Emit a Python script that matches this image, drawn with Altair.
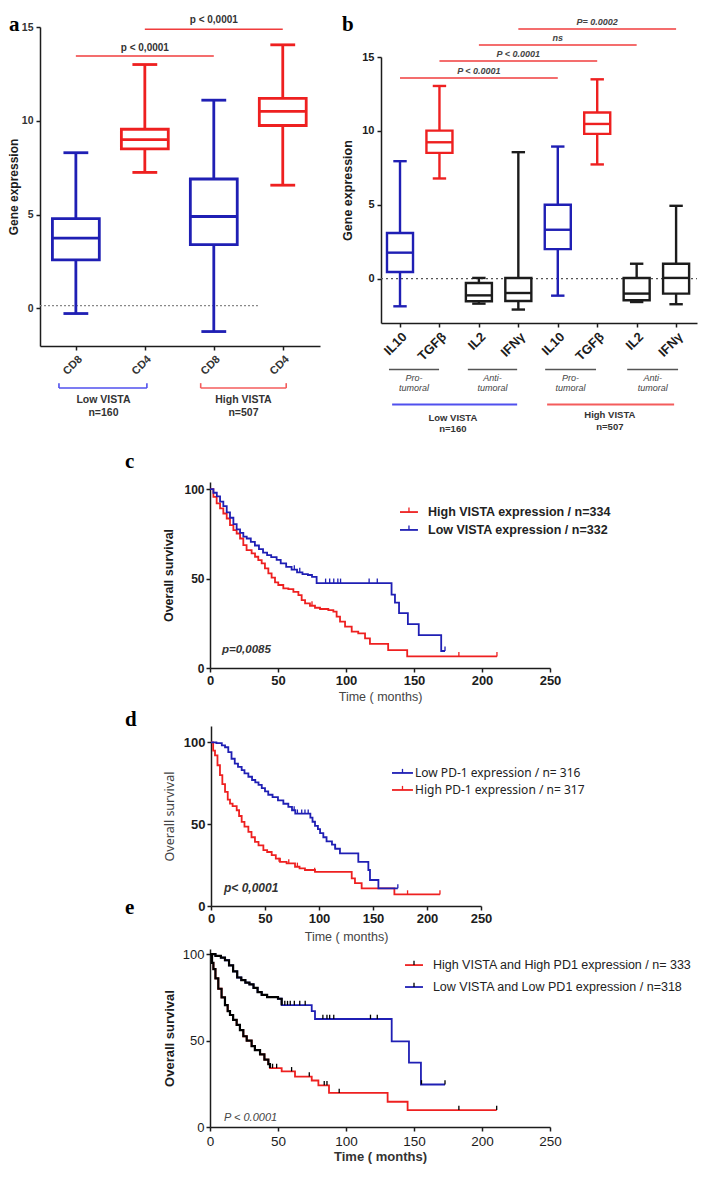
import altair as alt
import pandas as pd

SANS = "Liberation Sans"
SERIF = "Liberation Serif"
NOTO = "Noto Sans"
BLUE = "#1f1fb4"
RED = "#ee2020"
INK = "#1c1c1c"
LIGHT_BLUE = "#5050ee"
LIGHT_RED = "#f45c5c"
PLINE = "#f03c3c"

W, H = 695, 1162  # whole canvas

# ---------------- panel a : CD8 / CD4 by VISTA level ----------------
a_ticks = ["CD8", "CD4", "CD8", "CD4"]
a_min = [-0.27, 7.25, -1.23, 6.57]
a_q1 = [2.59, 8.50, 3.40, 9.75]
a_med = [3.75, 9.00, 4.90, 10.50]
a_q3 = [4.79, 9.55, 6.90, 11.20]
a_max = [8.30, 13.00, 11.10, 14.05]
a_groups = ["Low VISTA", "High VISTA"]
a_n = ["n=160", "n=507"]
a_pvals = ["p < 0,0001", "p < 0,0001"]

# ---------------- panel b : cytokines by VISTA level ----------------
b_ticks = ["IL10", "TGFβ", "IL2", "IFNγ", "IL10", "TGFβ", "IL2", "IFNγ"]
b_min = [-1.87, 6.78, -1.69, -2.09, -1.15, 7.73, -1.58, -1.73]
b_q1 = [0.45, 8.51, -1.53, -1.51, 2.00, 9.80, -1.46, -1.01]
b_med = [1.76, 9.23, -1.13, -0.97, 3.31, 10.47, -1.01, 0.05]
b_q3 = [3.09, 10.02, -0.29, 0.05, 5.00, 11.24, 0.05, 1.01]
b_max = [7.95, 13.04, 0.05, 8.56, 8.94, 13.49, 1.01, 4.93]
b_pvals = ["P < 0.0001", "P < 0.0001", "ns", "P= 0.0002"]
b_roles = ["Pro-", "Anti-", "tumoral"]
b_groups = ["Low VISTA", "High VISTA"]
b_n = ["n=160", "n=507"]

box_kinds = ["CD8", "CD4", "IL10", "TGFβ", "IL2", "IFNγ"]
box_colors = [BLUE, RED, BLUE, RED, INK, INK]

# ---------------- panel c : VISTA survival ----------------
c_high_t = [0, 2.5, 4.9, 7.4, 9.8, 12.3, 14.7, 17.2, 19.6, 22.1, 24.5, 26.9, 30.6, 33.1, 35.5, 38, 40.4, 42.9, 45.3, 47.8,
            50.2, 53.9, 57.6, 61.3, 65, 67.4, 69.9, 73.5, 77.2, 80.9, 87, 90.7, 93.1, 95.6, 99.3, 104.2, 109, 114, 117.6, 131,
            145, 211]
c_high_s = [100, 95.7, 92, 89.2, 86.4, 83.6, 79.9, 77.1, 75.2, 72.4, 68.7, 65.9, 64.1, 62.2, 60.3, 58.5, 55.7, 52.9, 50.5, 47.9,
            46.4, 44.5, 44.1, 42.6, 40.8, 38, 36.1, 34.8, 33.7, 33, 32.4, 31.5, 28.7, 25.9, 23.1, 20.3, 19.4, 16.6, 13.5, 10,
            6.5, 6.5]
c_low_t = [0, 2.5, 5, 7.4, 9.8, 12.3, 14.7, 17.2, 19.6, 22.1, 24.5, 27, 30, 33, 36, 39, 42, 45, 49, 52,
           56, 60, 64, 68, 72, 75, 78.4, 133.5, 136, 139, 145.5, 153.5, 170, 172.8]
c_low_s = [100, 98, 96, 93, 90.5, 87, 84, 80.5, 77.5, 75.5, 73.5, 72.4, 70.5, 68.5, 66.5, 64.5, 63.1, 62, 60.5, 58.5,
           56.5, 55, 53.5, 52.5, 52, 51, 47.5, 41, 36.5, 30.7, 24.5, 18.4, 9.5, 9.5]
c_high_cens_t = [75, 183, 211]
c_high_cens_s = [34.8, 6.5, 6.5]
c_low_cens_t = [62, 66, 85, 88, 91, 94, 96, 117, 123, 172.8]
c_low_cens_s = [55, 53.5, 47.5, 47.5, 47.5, 47.5, 47.5, 47.5, 47.5, 9.5]
c_legend = ["High VISTA expression / n=334", "Low VISTA expression / n=332"]

# ---------------- panel d : PD-1 survival ----------------
d_low_t = [0, 5, 10, 13, 16, 19, 22, 25, 28.4, 31, 34.6, 38, 41, 44, 47, 50, 53, 57, 62, 67,
           71.6, 75, 78, 92, 94, 96.3, 99, 101, 104, 107, 112, 115, 119.4, 136.4, 145.7, 147.2, 155, 173]
d_low_s = [100, 99.5, 98.2, 97, 94, 90, 87, 85, 83, 81, 79, 77, 75.5, 74, 72, 70, 68, 66.5, 64.6, 62.5,
           60.6, 58.5, 56.5, 54, 51.5, 49, 47, 44.5, 42, 39.5, 37.5, 35, 32.1, 27, 22, 15.9, 10.8, 10.8]
d_high_t = [0, 2, 3.7, 6, 8.3, 10.5, 13, 15.5, 17.6, 20, 23.8, 26, 28.4, 31, 34.6, 37.5, 40.7, 44, 48.5, 52,
            56.2, 60, 63.9, 70, 77.8, 82, 87, 96.3, 130.3, 133.3, 139.5, 169.8, 212]
d_high_s = [100, 95, 92, 86, 80, 74.5, 69.7, 65, 62.6, 61, 58.5, 55, 51.4, 48.5, 45.3, 42, 39.2, 37, 34.1, 33,
            31.1, 29, 27, 26, 24, 23, 22, 20.9, 16.9, 14, 10.8, 7.1, 7.1]
d_low_cens_t = [77, 80, 84, 87, 90, 115, 173]
d_low_cens_s = [58.5, 56.5, 56.5, 56.5, 56.5, 35, 10.8]
d_high_cens_t = [63, 72, 80, 96, 182, 212]
d_high_cens_s = [27, 26, 24, 20.9, 7.1, 7.1]
d_legend = ["Low PD-1 expression / n= 316", "High PD-1 expression / n= 317"]

# ---------------- panel e : VISTA + PD1 survival ----------------
e_low_t = [0, 4, 8, 11, 14, 17, 20, 23, 26, 29, 32, 35, 38, 42, 50, 52.7, 74.8, 77.2, 133.6, 146.3, 155.1, 172.8]
e_low_s = [100, 99, 98, 96.5, 93.5, 90, 86.5, 85, 83.5, 82.5, 80.5, 78, 76.5, 75.2, 74.2, 70.5, 67, 62.5, 49.6, 37.3,
           24.6, 24.6]
e_high_t = [0, 1.5, 2.5, 4, 6.1, 8.5, 11, 13, 14.7, 17, 19.6, 22, 24.5, 27, 30.6, 33, 36.8, 40, 42.9, 44.1,
            52.7, 62.5, 74.8, 79.7, 87.5, 130.6, 145.3, 210.8]
e_high_s = [100, 95, 91.3, 86, 80, 75, 70.5, 67, 64.8, 62, 59.1, 56, 52.5, 50, 46.8, 44.5, 42, 39, 36.4, 34.1,
            32.2, 29.2, 26.9, 24.1, 19.7, 14.6, 9.8, 9.8]
e_low_cens_t = [55, 57, 59, 62, 66, 70, 83, 86, 88, 91, 118, 123, 155.5, 172.8]
e_low_cens_s = [70.5, 70.5, 70.5, 70.5, 70.5, 70.5, 62.5, 62.5, 62.5, 62.5, 62.5, 62.5, 24.6, 24.6]
e_high_cens_t = [46, 49, 60, 73, 84, 86, 95, 183, 210.8]
e_high_cens_s = [34.1, 34.1, 32.2, 29.2, 24.1, 24.1, 19.7, 9.8, 9.8]
e_legend = ["High VISTA and High PD1 expression / n= 333", "Low VISTA and Low PD1 expression / n=318"]


# ---------------- helpers ----------------
def sc(lo, hi, r0, r1):
    # each panel gets its own scale, placed on the canvas through its pixel range
    return alt.Scale(domain=[lo, hi], range=[r0, r1], nice=False, zero=False)


def ax(**kw):
    base = dict(grid=False, domainColor=INK, domainWidth=1.5, tickColor=INK, tickWidth=1.5, tickSize=4,
                labelFont=SANS, titleFont=SANS, labelFlush=False, labelOverlap=False, format="d")
    base.update(kw)
    return alt.Axis(**base)


def ex(field, s, axis=alt.Undefined):
    return alt.X(field, type="quantitative", scale=s, axis=axis)


def ey(field, s, axis=alt.Undefined):
    return alt.Y(field, type="quantitative", scale=s, axis=axis)


def lab(ticks):
    return "[" + ",".join("'" + t + "'" for t in ticks) + "][datum.value - 1]"


def hlines(rows, xs, ys, color, width, dash=None, xaxis=alt.Undefined, yaxis=alt.Undefined):
    df = pd.DataFrame(rows, columns=["x", "x2", "y"])
    kw = dict(color=color, strokeWidth=width)
    if dash:
        kw["strokeDash"] = dash
    return alt.Chart(df).mark_rule(**kw).encode(x=ex("x", xs, xaxis), x2="x2:Q", y=ey("y", ys, yaxis))


def vlines(rows, xs, ys, color, width):
    df = pd.DataFrame(rows, columns=["x", "y", "y2"])
    return alt.Chart(df).mark_rule(color=color, strokeWidth=width).encode(x=ex("x", xs), y=ey("y", ys), y2="y2:Q")


def texts(rows, xs, ys, **mk):
    df = pd.DataFrame(rows, columns=["x", "y", "text"])
    return alt.Chart(df).mark_text(**mk).encode(x=ex("x", xs), y=ey("y", ys), text="text:N")


CS = alt.Scale(domain=box_kinds, range=box_colors)


def box_layers(ticks, lo, q1, med, q3, hi, xs, ys, half, cap, sw):
    df = pd.DataFrame({"pos": list(range(1, len(ticks) + 1)), "kind": ticks,
                       "lo": lo, "q1": q1, "med": med, "q3": q3, "hi": hi})
    base = alt.Chart(df).transform_calculate(
        xl=f"datum.pos - {half}", xr=f"datum.pos + {half}",
        cl=f"datum.pos - {cap}", cr=f"datum.pos + {cap}")
    col = alt.Color("kind:N", scale=CS, legend=None)
    w_lo = base.mark_rule(strokeWidth=sw).encode(x=ex("pos", xs), y=ey("lo", ys), y2="q1:Q", color=col)
    w_hi = base.mark_rule(strokeWidth=sw).encode(x=ex("pos", xs), y=ey("q3", ys), y2="hi:Q", color=col)
    box = base.mark_rect(fill="white", strokeWidth=sw).encode(
        x=ex("xl", xs), x2="xr:Q", y=ey("q1", ys), y2="q3:Q",
        stroke=alt.Stroke("kind:N", scale=CS, legend=None))
    mid = base.mark_rule(strokeWidth=sw).encode(x=ex("xl", xs), x2="xr:Q", y=ey("med", ys), color=col)
    c_lo = base.mark_rule(strokeWidth=sw).encode(x=ex("cl", xs), x2="cr:Q", y=ey("lo", ys), color=col)
    c_hi = base.mark_rule(strokeWidth=sw).encode(x=ex("cl", xs), x2="cr:Q", y=ey("hi", ys), color=col)
    return [w_lo, w_hi, box, mid, c_lo, c_hi]


def km(times, surv, color, xs, ys, sw, xaxis=alt.Undefined, yaxis=alt.Undefined):
    df = pd.DataFrame({"t": times, "s": surv})
    return alt.Chart(df).mark_line(interpolate="step-after", color=color, strokeWidth=sw).encode(
        x=ex("t", xs, xaxis), y=ey("s", ys, yaxis))


def cens(times, surv, color, xs, ys, h):
    df = pd.DataFrame({"t": times, "s": surv})
    return alt.Chart(df).transform_calculate(s2=f"datum.s + {h}").mark_rule(color=color, strokeWidth=1.3).encode(
        x=ex("t", xs), y=ey("s", ys), y2="s2:Q")


LETTER = dict(font=SERIF, fontSize=21, fontWeight="bold", color="black", align="left")

# ================= panel a =================
xa, ya = sc(0.48, 4.54, 32, 312), sc(-2, 15, 338, 19)
ax_a_x = ax(orient="bottom", offset=338 - H, values=[1, 2, 3, 4], labelExpr=lab(a_ticks), labelAngle=-45,
            labelFontSize=11, labelFontWeight="bold", labelColor="#333", labelPadding=3, title=None)
ax_a_y = ax(orient="left", offset=-32, values=[0, 5, 10, 15], labelFontSize=10.5, labelFontWeight="bold",
            labelColor="#333", labelPadding=3, title="Gene expression", titleFontSize=12, titleFontWeight="bold",
            titleColor=INK, titlePadding=1)
panel_a = alt.layer(
    hlines([[0.48, 3.64, 0.15]], xa, ya, "#888888", 1.2, [2, 2], ax_a_x, ax_a_y),
    *box_layers(a_ticks, a_min, a_q1, a_med, a_q3, a_max, xa, ya, 0.34, 0.18, 2.8),
    hlines([[1, 3, 13.45], [2, 4, 14.88]], xa, ya, PLINE, 1.5),
    texts([[2, 13.9, a_pvals[0]], [3, 15.37, a_pvals[1]]], xa, ya, font=SANS, fontSize=10,
          fontWeight="bold", color="#333", baseline="middle"),
    hlines([[0.755, 2.03, -4.24]], xa, ya, LIGHT_BLUE, 1.6),
    vlines([[0.755, -4.24, -3.98], [2.03, -4.24, -3.98]], xa, ya, LIGHT_BLUE, 1.6),
    hlines([[2.81, 4.05, -4.24]], xa, ya, LIGHT_RED, 1.6),
    vlines([[2.81, -4.24, -3.98], [4.05, -4.24, -3.98]], xa, ya, LIGHT_RED, 1.6),
    texts([[1.40, -4.88, a_groups[0]], [1.40, -5.58, a_n[0]],
           [3.43, -4.88, a_groups[1]], [3.43, -5.58, a_n[1]]], xa, ya,
          font=SANS, fontSize=10.5, fontWeight="bold", color="#333", baseline="middle"),
    texts([[0.03, 15.107, "a"]], xa, ya, **LETTER),
)

# ================= panel b =================
xb, yb = sc(0.518, 8.53, 373, 689), sc(-3, 15, 315, 49)
ax_b_x = ax(orient="bottom", offset=315 - H, values=list(range(1, 9)), labelExpr=lab(b_ticks), labelAngle=-45,
            labelFontSize=13, labelFontWeight="bold", labelColor=INK, labelPadding=3, title=None)
ax_b_y = ax(orient="left", offset=-373, values=[0, 5, 10, 15], labelFontSize=11, labelFontWeight="bold",
            labelColor=INK, labelPadding=3, title="Gene expression", titleFontSize=12.5, titleFontWeight="bold",
            titleColor=INK, titlePadding=7)
panel_b = alt.layer(
    hlines([[0.518, 8.53, 0]], xb, yb, "#555555", 1.3, [2, 3], ax_b_x, ax_b_y),
    *box_layers(b_ticks, b_min, b_q1, b_med, b_q3, b_max, xb, yb, 0.33, 0.17, 2.4),
    hlines([[1, 5, 13.58], [2, 6, 14.73], [3, 7, 15.81], [4, 8, 16.89]], xb, yb, PLINE, 1.5),
    texts([[3, 14.05, b_pvals[0]], [4, 15.2, b_pvals[1]], [5, 16.29, b_pvals[2]], [6, 17.37, b_pvals[3]]],
          xb, yb, font=SANS, fontSize=9, fontStyle="italic", fontWeight="bold", color="#444",
          baseline="middle"),
    hlines([[0.72, 1.99, -6.15], [2.72, 3.97, -6.15], [4.68, 5.97, -6.15], [6.76, 8.05, -6.15]],
           xb, yb, "#555555", 1.5),
    texts([[1.355, -6.72, b_roles[0]], [1.355, -7.40, b_roles[2]],
           [3.345, -6.72, b_roles[1]], [3.345, -7.40, b_roles[2]],
           [5.325, -6.72, b_roles[0]], [5.325, -7.40, b_roles[2]],
           [7.405, -6.72, b_roles[1]], [7.405, -7.40, b_roles[2]]],
          xb, yb, font=SANS, fontSize=9, fontStyle="italic", color="#444", baseline="middle"),
    hlines([[0.80, 3.97, -8.52]], xb, yb, LIGHT_BLUE, 2),
    hlines([[4.73, 7.95, -8.52]], xb, yb, LIGHT_RED, 2),
    texts([[2.34, -9.43, b_groups[0]], [2.34, -10.17, b_n[0]],
           [6.32, -9.22, b_groups[1]], [6.32, -10.03, b_n[1]]], xb, yb,
          font=SANS, fontSize=9.5, fontWeight="bold", color="#333", baseline="middle"),
    texts([[-0.471, 17.165, "b"]], xb, yb, **LETTER),
)

# ================= panel c =================
xc, yc = sc(0, 250, 202, 542), sc(0, 104, 660, 474)
ax_c_x = ax(orient="bottom", offset=660 - H, values=[0, 50, 100, 150, 200, 250], labelFontSize=13,
            labelFontWeight="bold", labelColor=INK, labelPadding=2, title="Time ( months)", titleFontSize=12.5,
            titleFontWeight="normal", titleColor="#444", titlePadding=3)
ax_c_y = ax(orient="left", offset=-202, values=[0, 50, 100], labelFontSize=12, labelFontWeight="bold",
            labelColor=INK, labelPadding=2, title="Overall survival", titleFontSize=12.5, titleFontWeight="bold",
            titleColor=INK, titlePadding=8)
panel_c = alt.layer(
    km(c_high_t, c_high_s, RED, xc, yc, 1.8, ax_c_x, ax_c_y),
    km(c_low_t, c_low_s, BLUE, xc, yc, 1.8),
    cens(c_high_cens_t, c_high_cens_s, RED, xc, yc, 2.5),
    cens(c_low_cens_t, c_low_cens_s, BLUE, xc, yc, 2.5),
    hlines([[139.7, 152.9, 87.2]], xc, yc, RED, 1.8),
    hlines([[139.7, 152.9, 77.2]], xc, yc, BLUE, 1.8),
    vlines([[146.3, 87.2, 89.7]], xc, yc, RED, 1.3),
    vlines([[146.3, 77.2, 79.7]], xc, yc, BLUE, 1.3),
    texts([[160.3, 87.2, c_legend[0]], [160.3, 77.2, c_legend[1]]], xc, yc, font=SANS, fontSize=12.5,
          fontWeight="bold", color="#222", align="left", baseline="middle"),
    texts([[8.8, 10.1, "p=0,0085"]], xc, yc, font=SANS, fontSize=11.5, fontWeight="bold",
          fontStyle="italic", color="#333", align="left", baseline="middle"),
    texts([[-62.5, 115.2, "c"], [-62.5, -29.1, "d"]], xc, yc, **LETTER),
)

# ================= panel d =================
xd, yd = sc(0, 250, 203, 473), sc(0, 110, 898, 718)
ax_d_x = ax(orient="bottom", offset=898 - H, values=[0, 50, 100, 150, 200, 250], labelFontSize=13,
            labelFontWeight="bold", labelColor=INK, labelPadding=2, title="Time ( months)", titleFontSize=12.5,
            titleFontWeight="normal", titleColor="#444", titlePadding=5)
ax_d_y = ax(orient="left", offset=-203, values=[0, 50, 100], labelFontSize=13, labelFontWeight="bold",
            labelColor=INK, labelPadding=2, title="Overall survival", titleFont=NOTO, titleFontSize=12.5,
            titleFontWeight="normal", titleColor="#444", titlePadding=7)
panel_d = alt.layer(
    km(d_high_t, d_high_s, RED, xd, yd, 1.8, ax_d_x, ax_d_y),
    km(d_low_t, d_low_s, BLUE, xd, yd, 1.8),
    cens(d_high_cens_t, d_high_cens_s, RED, xd, yd, 2.5),
    cens(d_low_cens_t, d_low_cens_s, BLUE, xd, yd, 2.5),
    hlines([[167.6, 187, 81.3]], xd, yd, BLUE, 1.8),
    hlines([[167.6, 187, 70.9]], xd, yd, RED, 1.8),
    vlines([[177.3, 81.3, 83.8]], xd, yd, BLUE, 1.3),
    vlines([[177.3, 70.9, 73.4]], xd, yd, RED, 1.3),
    texts([[188.9, 81.3, d_legend[0]], [188.9, 70.9, d_legend[1]]], xd, yd, font=NOTO, fontSize=12,
          color="#222", align="left", baseline="middle"),
    texts([[12, 11, "p< 0,0001"]], xd, yd, font=SANS, fontSize=12, fontWeight="bold",
          fontStyle="italic", color="#333", align="left", baseline="middle"),
    texts([[-79.6, -1.2, "e"]], xd, yd, **LETTER),
)

# ================= panel e =================
xe, ye = sc(0, 250, 202, 542), sc(0, 103, 1119, 941)
ax_e_x = ax(orient="bottom", offset=1119 - H, values=[0, 50, 100, 150, 200, 250], labelFontSize=13.5,
            labelFontWeight="normal", labelColor=INK, labelPadding=3, title="Time ( months)", titleFontSize=13,
            titleFontWeight="bold", titleColor="#333", titlePadding=3)
ax_e_y = ax(orient="left", offset=-202, values=[0, 50, 100], labelFontSize=13, labelFontWeight="normal",
            labelColor=INK, labelPadding=2, title="Overall survival", titleFontSize=13, titleFontWeight="bold",
            titleColor=INK, titlePadding=6)
panel_e = alt.layer(
    km(e_high_t, e_high_s, RED, xe, ye, 1.8, ax_e_x, ax_e_y),
    km(e_low_t, e_low_s, BLUE, xe, ye, 1.8),
    alt.Chart(pd.DataFrame({"t": e_high_t, "s": e_high_s})).transform_filter("datum.t <= 44.1").mark_line(
        interpolate="step-after", color="black", strokeWidth=2.2).encode(x=ex("t", xe), y=ey("s", ye)),
    alt.Chart(pd.DataFrame({"t": e_low_t, "s": e_low_s})).transform_filter("datum.t <= 52.7").mark_line(
        interpolate="step-after", color="black", strokeWidth=2.2).encode(x=ex("t", xe), y=ey("s", ye)),
    cens(e_high_cens_t, e_high_cens_s, "black", xe, ye, 2.5),
    cens(e_low_cens_t, e_low_cens_s, "black", xe, ye, 2.5),
    hlines([[143.4, 156.6, 93.7]], xe, ye, RED, 1.8),
    hlines([[143.4, 156.6, 81.0]], xe, ye, BLUE, 1.8),
    vlines([[150, 93.7, 96.2], [150, 81.0, 83.5]], xe, ye, "black", 1.3),
    texts([[163.9, 93.7, e_legend[0]], [163.9, 81.0, e_legend[1]]], xe, ye, font=SANS, fontSize=12.5,
          color="#222", align="left", baseline="middle"),
    texts([[10.3, 5.2, "P < 0.0001"]], xe, ye, font=SANS, fontSize=11, fontStyle="italic",
          color="#444", align="left", baseline="middle"),
)

chart = alt.layer(panel_a, panel_b, panel_c, panel_d, panel_e).resolve_scale(
    x="independent", y="independent"
).resolve_axis(
    x="independent", y="independent"
).properties(
    width=W, height=H, padding=0, autosize=alt.AutoSizeParams(type="none")
).configure_view(stroke=None).configure_axis(grid=False)

chart.save("out.html", embed_options={"renderer": "svg", "actions": False})
